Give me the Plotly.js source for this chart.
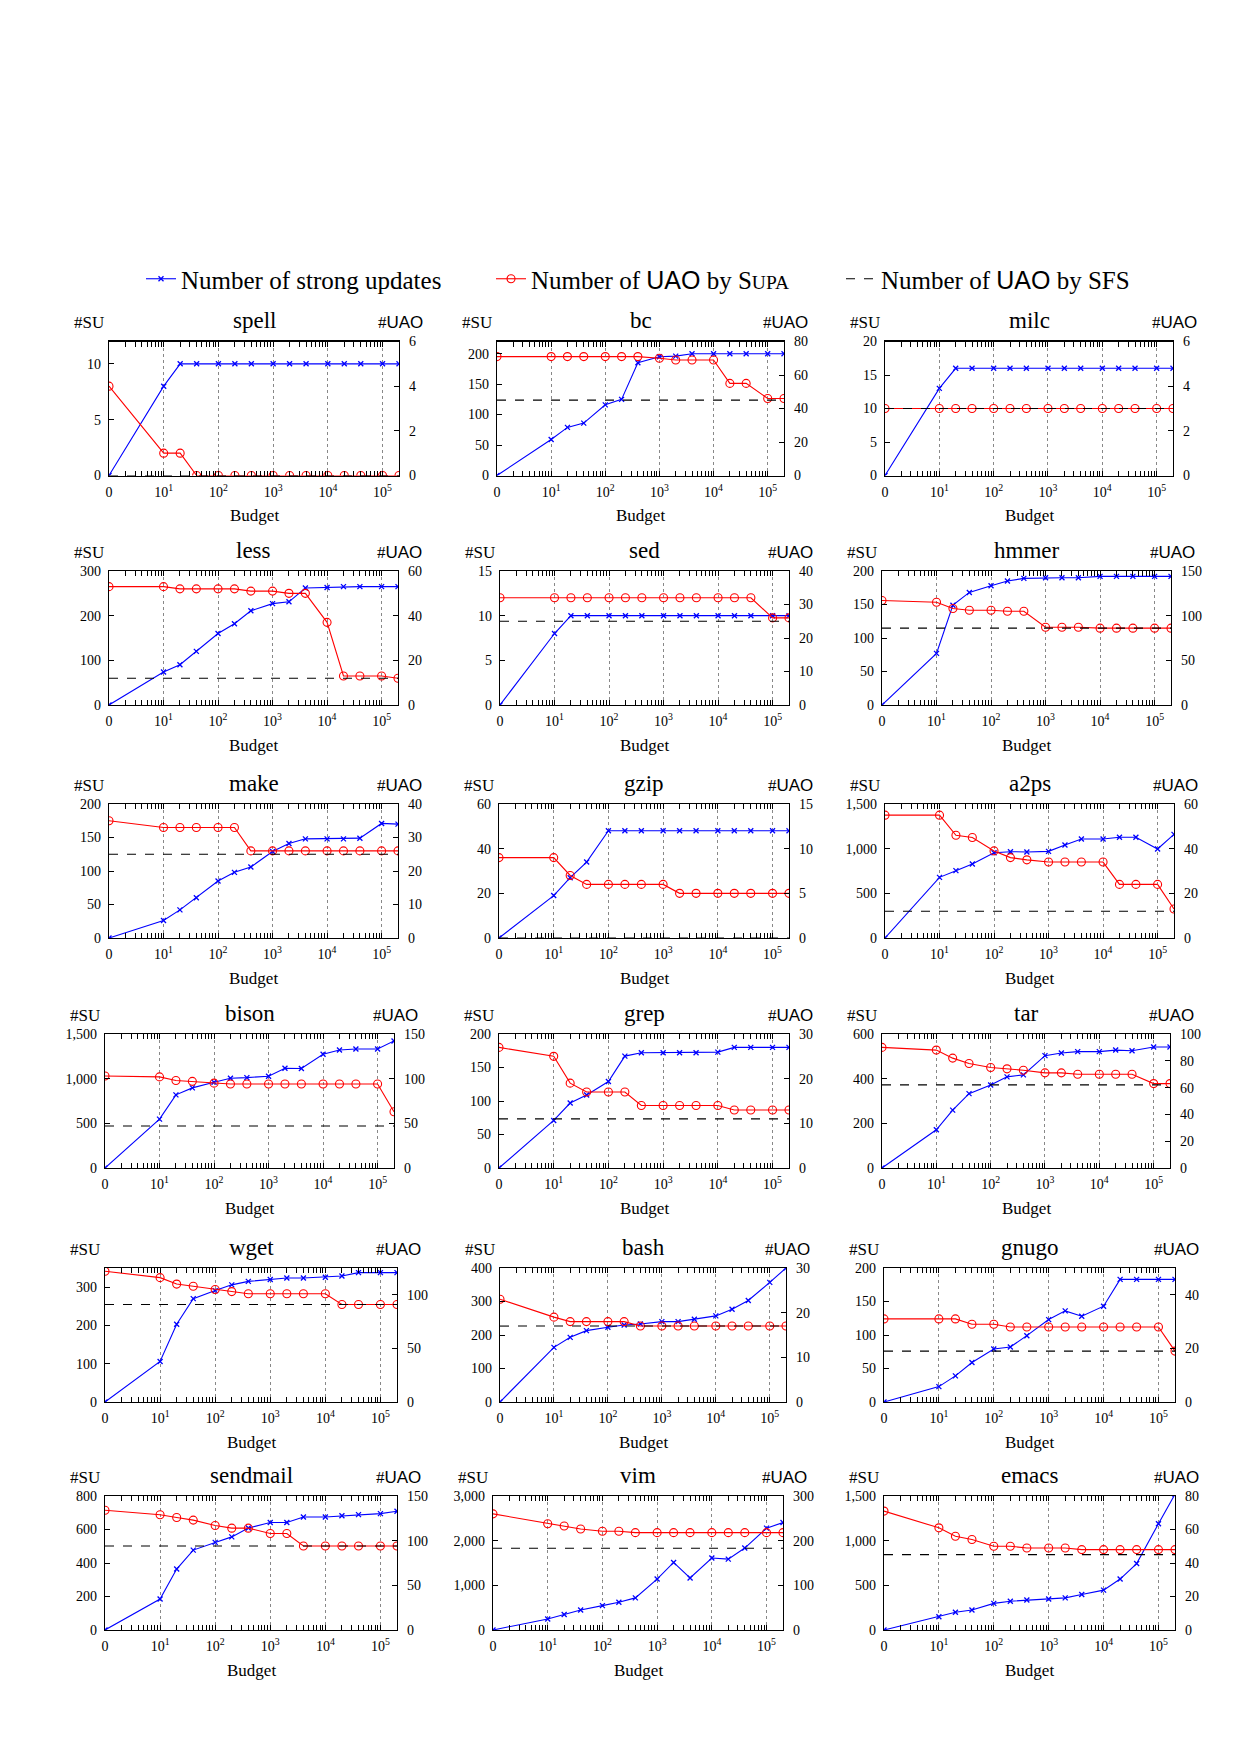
<!DOCTYPE html>
<html><head><meta charset="utf-8">
<script src="https://cdn.plot.ly/plotly-3.0.1.min.js"></script>
<style>body{margin:0;background:#fff}</style>
</head><body><div id="chart" style="width:1241px;height:1754px"></div>
<script>
// Budgets (x values); 0 is drawn at the left edge of the log axis (position 1)
const budgets = [0, 10, 20, 40, 100, 200, 400, 1000, 2000, 4000, 10000, 20000, 40000, 100000, 200000];
const budgetTickVals = [1, 10, 100, 1000, 10000, 100000];
const budgetTickText = ['0', '10<sup>1</sup>', '10<sup>2</sup>', '10<sup>3</sup>', '10<sup>4</sup>', '10<sup>5</sup>'];

const benchmarks = ['spell','bc','milc','less','sed','hmmer','make','gzip','a2ps','bison','grep','tar','wget','bash','gnugo','sendmail','vim','emacs'];

// #SU (strong updates, left axis), #UAO by Supa (right axis), #UAO by SFS (right axis)
const spellSU  = [0, 8, 10, 10, 10, 10, 10, 10, 10, 10, 10, 10, 10, 10, 10];
const spellUAO = [4, 1, 1, 0, 0, 0, 0, 0, 0, 0, 0, 0, 0, 0, 0];
const spellSFS = 0;

const bcSU  = [0, 59, 79, 86, 116, 125, 185, 195, 196, 200, 200, 200, 200, 200, 200];
const bcUAO = [71, 71, 71, 71, 71, 71, 71, 70, 69, 69, 69, 55, 55, 46, 46];
const bcSFS = 45;

const milcSU  = [0, 13, 16, 16, 16, 16, 16, 16, 16, 16, 16, 16, 16, 16, 16];
const milcUAO = [3, 3, 3, 3, 3, 3, 3, 3, 3, 3, 3, 3, 3, 3, 3];
const milcSFS = 3;

const lessSU  = [0, 74, 90, 120, 160, 182, 211, 227, 231, 262, 263, 265, 265, 265, 265];
const lessUAO = [53, 53, 52, 52, 52, 52, 51, 51, 50, 50, 37, 13, 13, 13, 12];
const lessSFS = 12;

const sedSU  = [0, 8, 10, 10, 10, 10, 10, 10, 10, 10, 10, 10, 10, 10, 10];
const sedUAO = [32, 32, 32, 32, 32, 32, 32, 32, 32, 32, 32, 32, 32, 26, 26];
const sedSFS = 25;

const hmmerSU  = [0, 77, 149, 168, 178, 185, 189, 190, 190, 190, 192, 192, 192, 192, 192];
const hmmerUAO = [117, 115, 108, 106, 106, 105, 105, 87, 87, 87, 86, 86, 86, 86, 86];
const hmmerSFS = 86;

const makeSU  = [0, 26, 42, 60, 85, 98, 106, 129, 141, 148, 148, 148, 149, 171, 170];
const makeUAO = [35, 33, 33, 33, 33, 33, 26, 26, 26, 26, 26, 26, 26, 26, 26];
const makeSFS = 25;

const gzipSU  = [0, 19, 27, 34, 48, 48, 48, 48, 48, 48, 48, 48, 48, 48, 48];
const gzipUAO = [9, 9, 7, 6, 6, 6, 6, 6, 5, 5, 5, 5, 5, 5, 5];
const gzipSFS = 0;

const a2psSU  = [0, 679, 754, 828, 955, 966, 963, 970, 1041, 1108, 1108, 1127, 1127, 996, 1160];
const a2psUAO = [55, 55, 46, 45, 39, 36, 35, 34, 34, 34, 34, 24, 24, 24, 13];
const a2psSFS = 12;

const bisonSU  = [0, 547, 819, 897, 960, 1005, 1012, 1027, 1116, 1113, 1273, 1321, 1332, 1332, 1422];
const bisonUAO = [103, 102, 98, 97, 95, 94, 94, 94, 94, 94, 94, 94, 94, 94, 63];
const bisonSFS = 47;

const grepSU  = [0, 71, 97, 109, 129, 167, 172, 172, 172, 172, 173, 180, 180, 180, 180];
const grepUAO = [27, 25, 19, 17, 17, 17, 14, 14, 14, 14, 14, 13, 13, 13, 13];
const grepSFS = 11;

const tarSU  = [0, 171, 259, 333, 372, 408, 417, 503, 515, 521, 521, 528, 525, 542, 542];
const tarUAO = [90, 88, 82, 78, 75, 74, 73, 71, 71, 70, 70, 70, 70, 63, 63];
const tarSFS = 62;

const wgetSU  = [0, 106, 203, 270, 291, 306, 315, 320, 324, 324, 326, 329, 338, 338, 338];
const wgetUAO = [122, 116, 110, 108, 105, 103, 101, 101, 101, 101, 101, 91, 91, 91, 91];
const wgetSFS = 91;

const bashSU  = [0, 163, 193, 213, 223, 230, 233, 240, 240, 247, 257, 277, 303, 357, 400];
const bashUAO = [23, 19, 18, 18, 18, 18, 17, 17, 17, 17, 17, 17, 17, 17, 17];
const bashSFS = 17;

const gnugoSU  = [0, 23, 39, 59, 79, 82, 99, 123, 136, 128, 143, 183, 183, 183, 183];
const gnugoUAO = [31, 31, 31, 29, 29, 28, 28, 28, 28, 28, 28, 28, 28, 28, 19];
const gnugoSFS = 19;

const sendmailSU  = [0, 185, 364, 477, 523, 556, 609, 642, 642, 675, 675, 682, 689, 695, 709];
const sendmailUAO = [134, 129, 126, 123, 117, 114, 114, 108, 108, 94, 94, 94, 94, 94, 94];
const sendmailSFS = 94;

const vimSU  = [0, 248, 347, 446, 545, 620, 719, 1140, 1512, 1165, 1612, 1587, 1835, 2281, 2405];
const vimUAO = [260, 238, 233, 226, 221, 221, 218, 218, 218, 218, 218, 218, 218, 218, 218];
const vimSFS = 183;

const emacsSU  = [0, 149, 198, 223, 298, 322, 335, 347, 360, 397, 446, 570, 744, 1190, 1520];
const emacsUAO = [71, 61, 56, 54, 50, 50, 49, 49, 49, 48, 48, 48, 48, 48, 48];
const emacsSFS = 45;

// panel settings: data refs + axis ranges
const panels = [
  {su: spellSU, uao: spellUAO, sfs: spellSFS, suR: [0, 12], suD: 5, uR: [0, 6], uD: 2, box: [109, 399]},
  {su: bcSU, uao: bcUAO, sfs: bcSFS, suR: [0, 220], suD: 50, uR: [0, 80], uD: 20, box: [497, 784]},
  {su: milcSU, uao: milcUAO, sfs: milcSFS, suR: [0, 20], suD: 5, uR: [0, 6], uD: 2, box: [885, 1173]},
  {su: lessSU, uao: lessUAO, sfs: lessSFS, suR: [0, 300], suD: 100, uR: [0, 60], uD: 20, box: [109, 398]},
  {su: sedSU, uao: sedUAO, sfs: sedSFS, suR: [0, 15], suD: 5, uR: [0, 40], uD: 10, box: [500, 789]},
  {su: hmmerSU, uao: hmmerUAO, sfs: hmmerSFS, suR: [0, 200], suD: 50, uR: [0, 150], uD: 50, box: [882, 1171]},
  {su: makeSU, uao: makeUAO, sfs: makeSFS, suR: [0, 200], suD: 50, uR: [0, 40], uD: 10, box: [109, 398]},
  {su: gzipSU, uao: gzipUAO, sfs: gzipSFS, suR: [0, 60], suD: 20, uR: [0, 15], uD: 5, box: [499, 789]},
  {su: a2psSU, uao: a2psUAO, sfs: a2psSFS, suR: [0, 1500], suD: 500, uR: [0, 60], uD: 20, box: [885, 1174]},
  {su: bisonSU, uao: bisonUAO, sfs: bisonSFS, suR: [0, 1500], suD: 500, uR: [0, 150], uD: 50, box: [105, 394]},
  {su: grepSU, uao: grepUAO, sfs: grepSFS, suR: [0, 200], suD: 50, uR: [0, 30], uD: 10, box: [499, 789]},
  {su: tarSU, uao: tarUAO, sfs: tarSFS, suR: [0, 600], suD: 200, uR: [0, 100], uD: 20, box: [882, 1170]},
  {su: wgetSU, uao: wgetUAO, sfs: wgetSFS, suR: [0, 350], suD: 100, uR: [0, 125], uD: 50, box: [105, 397]},
  {su: bashSU, uao: bashUAO, sfs: bashSFS, suR: [0, 400], suD: 100, uR: [0, 30], uD: 10, box: [500, 786]},
  {su: gnugoSU, uao: gnugoUAO, sfs: gnugoSFS, suR: [0, 200], suD: 50, uR: [0, 50], uD: 20, box: [884, 1175]},
  {su: sendmailSU, uao: sendmailUAO, sfs: sendmailSFS, suR: [0, 800], suD: 200, uR: [0, 150], uD: 50, box: [105, 397]},
  {su: vimSU, uao: vimUAO, sfs: vimSFS, suR: [0, 3000], suD: 1000, uR: [0, 300], uD: 100, box: [493, 783]},
  {su: emacsSU, uao: emacsUAO, sfs: emacsSFS, suR: [0, 1500], suD: 500, uR: [0, 80], uD: 20, box: [884, 1175]}
];
const rowTop = [341.5, 571, 804, 1034, 1268, 1496];
const rowH = 134;

const W = 1241, H = 1754;
const SERIF = 'Liberation Serif';
const SANS = 'Liberation Sans';
const BLUE = '#0000ff', RED = '#ff0000';

const xs = budgets.map(b => b === 0 ? 1 : b);
const minorVals = [];
for (let e = 0; e <= 5; e++) for (let d = 2; d <= 9; d++) { const v = d * Math.pow(10, e); if (v < 200000) minorVals.push(v); }

const data = [];
const layout = {
  width: W, height: H,
  margin: {l: 0, r: 0, t: 0, b: 0},
  paper_bgcolor: '#fff', plot_bgcolor: 'rgba(0,0,0,0)',
  font: {family: SERIF, color: '#000', size: 14},
  separators: '.,',
  showlegend: true,
  legend: {
    orientation: 'h', x: 141 / W, xanchor: 'left', y: 1 - 279 / H, yanchor: 'middle',
    font: {family: SERIF, size: 25}, entrywidth: 305, entrywidthmode: 'pixels',
    bgcolor: 'rgba(0,0,0,0)', traceorder: 'normal'
  },
  annotations: []
};

panels.forEach((p, i) => {
  const k = i + 1;
  const row = Math.floor(i / 3);
  const top = rowTop[row], bot = top + rowH;
  const xa = k === 1 ? 'x' : 'x' + k;
  const ya = k === 1 ? 'y' : 'y' + k;
  const y2 = 'y' + (18 + k);
  const xKey = k === 1 ? 'xaxis' : 'xaxis' + k;
  const yKey = k === 1 ? 'yaxis' : 'yaxis' + k;
  const y2Key = 'yaxis' + (18 + k);

  layout[xKey] = {
    type: 'log', domain: [p.box[0] / W, p.box[1] / W], anchor: ya,
    range: [Math.log10(xs[0]), Math.log10(xs[xs.length - 1])],
    tickmode: 'array', tickvals: budgetTickVals, ticktext: budgetTickText,
    ticks: 'inside', ticklen: 5, tickcolor: '#000', tickwidth: 1,
    showline: true, linecolor: '#000', linewidth: 1.2, mirror: 'allticks',
    showgrid: true, gridcolor: '#888', griddash: 'dot', gridwidth: 1,
    zeroline: false, tickfont: {family: SERIF, size: 14}, ticklabelstandoff: 3,
    minor: {tickmode: 'array', tickvals: minorVals, ticks: 'inside', ticklen: 3, tickcolor: '#000', showgrid: false}
  };
  layout[yKey] = {
    domain: [1 - bot / H, 1 - top / H], anchor: xa, range: p.suR,
    tick0: 0, dtick: p.suD, tickformat: ',',
    ticks: 'inside', ticklen: 5, tickcolor: '#000',
    showline: true, linecolor: '#000', linewidth: 1.2, showgrid: false, zeroline: false,
    tickfont: {family: SERIF, size: 14}, ticklabelstandoff: 4
  };
  layout[y2Key] = {
    overlaying: ya, side: 'right', anchor: xa, range: p.uR,
    tick0: 0, dtick: p.uD, tickformat: ',',
    ticks: 'inside', ticklen: 5, tickcolor: '#000',
    showline: true, linecolor: '#000', linewidth: 1.2, showgrid: false, zeroline: false,
    tickfont: {family: SERIF, size: 14}, ticklabelstandoff: 6
  };

  data.push({
    x: xs, y: p.su, xaxis: xa, yaxis: ya, type: 'scatter', mode: 'lines+markers',
    name: 'Number of strong updates', showlegend: i === 0, legendgroup: 'su',
    line: {color: BLUE, width: 1.1},
    marker: {symbol: 'x-thin', size: 5, line: {color: BLUE, width: 1.3}, color: BLUE}
  });
  data.push({
    x: xs, y: p.uao, xaxis: xa, yaxis: y2, type: 'scatter', mode: 'lines+markers',
    name: 'Number of <span style="font-family:Liberation Sans">UAO</span> by S<span style="font-size:78%">UPA</span>',
    showlegend: i === 0, legendgroup: 'uao',
    line: {color: RED, width: 1.1},
    marker: {symbol: 'circle-open', size: 8, line: {color: RED, width: 1.1}, color: RED}
  });
  data.push({
    x: [xs[0], xs[xs.length - 1]], y: [p.sfs, p.sfs], xaxis: xa, yaxis: y2, type: 'scatter', mode: 'lines',
    name: 'Number of <span style="font-family:Liberation Sans">UAO</span> by SFS',
    showlegend: i === 0, legendgroup: 'sfs',
    line: {color: '#000', width: 1.1, dash: 'dash'}
  });

  const xd = xa + ' domain', yd = ya + ' domain';
  layout.annotations.push(
    {xref: xd, yref: yd, x: 0.5, y: 1, yshift: 21, xanchor: 'center', yanchor: 'middle', showarrow: false,
     text: benchmarks[i], font: {family: SERIF, size: 23}},
    {xref: xd, yref: yd, x: 0, y: 1, xshift: -20, yshift: 19, xanchor: 'center', yanchor: 'middle', showarrow: false,
     text: '#SU', font: {family: SERIF, size: 17}},
    {xref: xd, yref: yd, x: 1, y: 1, xshift: 1, yshift: 19, xanchor: 'center', yanchor: 'middle', showarrow: false,
     text: '#<span style="font-family:Liberation Sans">UAO</span>', font: {family: SERIF, size: 17}},
    {xref: xd, yref: yd, x: 0.5, y: 0, yshift: -40, xanchor: 'center', yanchor: 'middle', showarrow: false,
     text: 'Budget', font: {family: SERIF, size: 17}}
  );
});

Plotly.newPlot('chart', data, layout, {staticPlot: true});
</script>
</body></html>
